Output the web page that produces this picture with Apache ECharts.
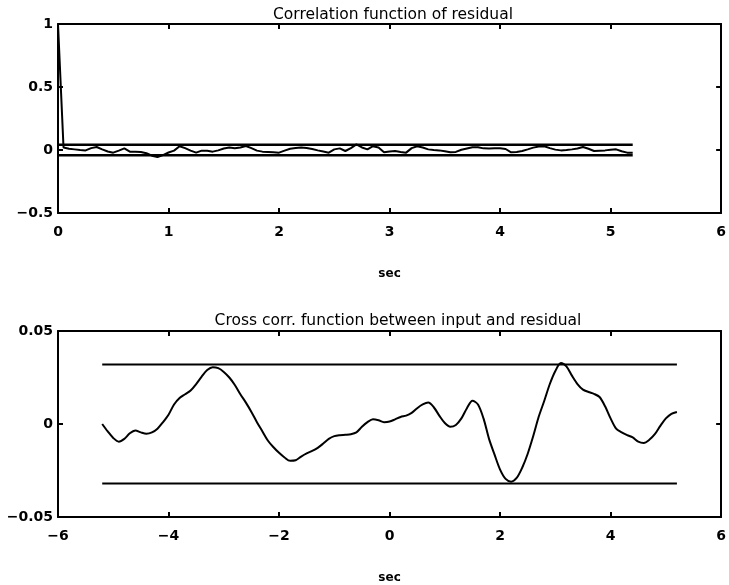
<!DOCTYPE html>
<html>
<head>
<meta charset="utf-8">
<script src="https://cdn.jsdelivr.net/npm/echarts@6/dist/echarts.min.js"></script>
<style>html,body{margin:0;padding:0;background:#fff}#c{width:729px;height:585px}</style>
</head>
<body>
<div id="c"></div>
<script>
// ---- Top panel: autocorrelation of residual (lag step 0.05 s, 0 .. 5.2 s)
const autoLagStep = 0.05;
const autoCorr = [
  1.0, 0.02, 0.01, 0.005, 0.0, -0.003, 0.015, 0.024, 0.005, -0.012,
  -0.021, -0.005, 0.013, -0.013, -0.014, -0.016, -0.025, -0.045, -0.055, -0.04,
  -0.02, -0.005, 0.03, 0.015, -0.005, -0.021, -0.005, -0.006, -0.013, -0.003,
  0.012, 0.019, 0.013, 0.02, 0.032, 0.015, -0.005, -0.013, -0.015, -0.018,
  -0.021, -0.005, 0.01, 0.015, 0.019, 0.015, 0.008, -0.003, -0.012, -0.021,
  0.005, 0.013, -0.008, 0.015, 0.045, 0.02, 0.005, 0.03, 0.02, -0.018,
  -0.012, -0.008, -0.015, -0.021, 0.015, 0.03, 0.02, 0.005, 0.0, -0.003,
  -0.01, -0.018, -0.015, 0.002, 0.012, 0.022, 0.022, 0.013, 0.012, 0.013,
  0.013, 0.008, -0.018, -0.015, -0.008, 0.005, 0.019, 0.028, 0.03, 0.015,
  0.003, -0.003, 0.0, 0.005, 0.012, 0.024, 0.01, -0.008, -0.005, -0.003,
  0.002, 0.005, -0.01, -0.021, -0.021
];
const autoConf = 0.042;
const autoLagRange = [0, 5.2];

// ---- Bottom panel: cross correlation input/residual (lag step 0.1 s, -5.2 .. 5.2 s)
const crossLagStart = -5.2;
const crossLagStep = 0.1;
const crossCorr = [
  0.000, -0.004, -0.0075, -0.0095, -0.008, -0.005, -0.0035, -0.0045, -0.0052, -0.0045,
  -0.0025, 0.001, 0.005, 0.0105, 0.014, 0.016, 0.018, 0.0215, 0.0255, 0.029,
  0.0305, 0.030, 0.028, 0.025, 0.021, 0.016, 0.0115, 0.0065, 0.001, -0.004,
  -0.009, -0.0125, -0.0155, -0.018, -0.0198, -0.0195, -0.0175, -0.0158, -0.0145, -0.0128,
  -0.0105, -0.008, -0.0065, -0.006, -0.0058, -0.0055, -0.0045, -0.0015, 0.001, 0.0025,
  0.002, 0.001, 0.0013, 0.0025, 0.0038, 0.0045, 0.006, 0.0085, 0.0105, 0.0115,
  0.009, 0.0045, 0.0005, -0.0015, -0.0005, 0.003, 0.0085, 0.0125, 0.0105, 0.003,
  -0.008, -0.0165, -0.0245, -0.0295, -0.031, -0.029, -0.0235, -0.016, -0.0065, 0.004,
  0.0125, 0.0215, 0.0285, 0.0328, 0.031, 0.026, 0.0215, 0.0185, 0.0172, 0.0162,
  0.0145, 0.0095, 0.003, -0.0025, -0.0045, -0.006, -0.0072, -0.0095, -0.0102, -0.0085,
  -0.0055, -0.001, 0.003, 0.0055, 0.0065
];
const crossConf = 0.032;
const crossLagRange = [-5.2, 5.2];

// ---- Text
const titles = ['Correlation function of residual', 'Cross corr. function between input and residual'];
const xName = 'sec';

const autoData = autoCorr.map((v, i) => [+(i * autoLagStep).toFixed(2), v]);
const crossData = crossCorr.map((v, i) => [+(crossLagStart + i * crossLagStep).toFixed(2), v]);

const FONT = 'DejaVu Sans';
const fmt = v => String(+v.toFixed(3)).replace('-', '\u2212');
const labelStyle = { color: '#000', fontFamily: FONT, fontSize: 14, fontWeight: 'bold', formatter: fmt };
const lineBlack = w => ({ show: true, onZero: false, lineStyle: { color: '#000', width: w } });
const tick = { show: true, inside: true, length: 5, lineStyle: { color: '#000', width: 2 } };

function xAx(gi, min, max, interval) {
  return [
    { type: 'value', gridIndex: gi, min, max, interval, position: 'bottom',
      axisLine: lineBlack(2), axisTick: tick,
      axisLabel: Object.assign({ margin: 12 }, labelStyle), splitLine: { show: false },
      name: xName, nameLocation: 'middle', nameGap: 55,
      nameTextStyle: { color: '#000', fontFamily: FONT, fontSize: 12, fontWeight: 'bold' } },
    { type: 'value', gridIndex: gi, min, max, interval, position: 'top',
      axisLine: lineBlack(2), axisTick: tick,
      axisLabel: { show: false }, splitLine: { show: false } }
  ];
}
function yAx(gi, min, max, interval) {
  return [
    { type: 'value', gridIndex: gi, min, max, interval, position: 'left',
      axisLine: lineBlack(2), axisTick: tick,
      axisLabel: Object.assign({ margin: 5 }, labelStyle), splitLine: { show: false } },
    { type: 'value', gridIndex: gi, min, max, interval, position: 'right',
      axisLine: lineBlack(2), axisTick: tick,
      axisLabel: { show: false }, splitLine: { show: false } }
  ];
}

const titleStyle = { color: '#000', fontFamily: FONT, fontSize: 15.5, fontWeight: 'normal' };

const option = {
  backgroundColor: '#fff',
  animation: false,
  title: [
    { text: titles[0], left: 388, top: 2, textAlign: 'center', textStyle: titleStyle },
    { text: titles[1], left: 393, top: 308, textAlign: 'center', textStyle: titleStyle }
  ],
  grid: [
    { left: 58, width: 665, top: 24, height: 189 },
    { left: 58, width: 670, top: 331, height: 187 }
  ],
  xAxis: [].concat(xAx(0, 0, 6, 1), xAx(1, -6, 6, 2)),
  yAxis: [].concat(yAx(0, -0.5, 1, 0.5), yAx(1, -0.05, 0.05, 0.05)),
  series: [
    { type: 'line', xAxisIndex: 0, yAxisIndex: 0, data: autoData, showSymbol: false,
      lineStyle: { color: '#000', width: 2 } },
    { type: 'line', xAxisIndex: 0, yAxisIndex: 0, data: autoLagRange.map(x => [x, autoConf]), showSymbol: false,
      lineStyle: { color: '#000', width: 2.5 } },
    { type: 'line', xAxisIndex: 0, yAxisIndex: 0, data: autoLagRange.map(x => [x, -autoConf]), showSymbol: false,
      lineStyle: { color: '#000', width: 2.5 } },
    { type: 'line', xAxisIndex: 2, yAxisIndex: 2, data: crossData, showSymbol: false, smooth: 0.3,
      lineStyle: { color: '#000', width: 2 } },
    { type: 'line', xAxisIndex: 2, yAxisIndex: 2, data: crossLagRange.map(x => [x, crossConf]), showSymbol: false,
      lineStyle: { color: '#000', width: 2 } },
    { type: 'line', xAxisIndex: 2, yAxisIndex: 2, data: crossLagRange.map(x => [x, -crossConf]), showSymbol: false,
      lineStyle: { color: '#000', width: 2 } }
  ]
};
const chart = echarts.init(document.getElementById('c'), null, { renderer: 'canvas' });
chart.setOption(option);
</script>
</body>
</html>
